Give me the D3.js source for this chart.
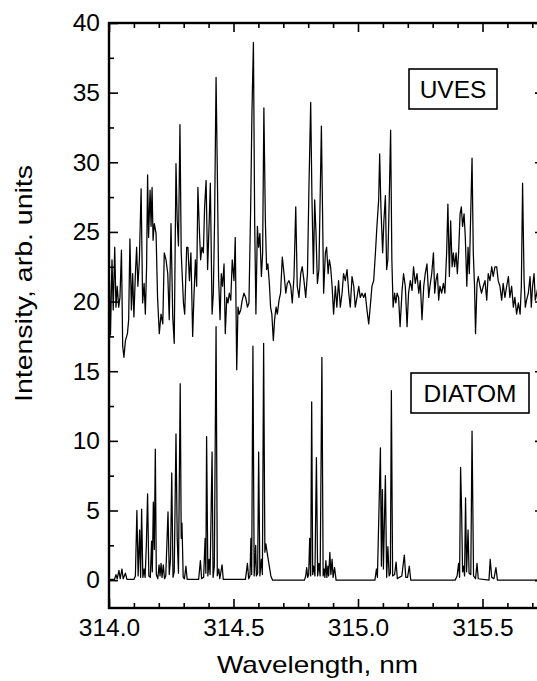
<!DOCTYPE html>
<html lang="en">
  <head>
    <meta charset="utf-8" />
    <style>
      body { margin: 0; background: #fff; }
      svg { display: block; }
    </style>
  </head>
  <body>
    <script type="text/javascript" src="https://d3js.org/d3.v7.min.js"></script>
    <script>
      // UVES spectrum (noisy trace around 20)
      var uvesWavelength = [
        314.002, 314.006, 314.012, 314.017, 314.023, 314.028, 314.033, 314.039, 314.044, 314.050,
        314.055, 314.060, 314.066, 314.074, 314.079, 314.084, 314.090, 314.095, 314.100, 314.106,
        314.111, 314.116, 314.122, 314.129, 314.135, 314.141, 314.146, 314.151, 314.155, 314.159,
        314.165, 314.169, 314.173, 314.177, 314.182, 314.189, 314.195, 314.202, 314.209, 314.216,
        314.222, 314.229, 314.236, 314.242, 314.249, 314.256, 314.262, 314.269, 314.274, 314.279,
        314.285, 314.290, 314.299, 314.304, 314.312, 314.317, 314.323, 314.329, 314.336, 314.341,
        314.347, 314.352, 314.357, 314.363, 314.368, 314.373, 314.379, 314.384, 314.390, 314.396,
        314.403, 314.407, 314.414, 314.419, 314.424, 314.430, 314.435, 314.440, 314.446, 314.451,
        314.456, 314.462, 314.467, 314.473, 314.478, 314.483, 314.489, 314.495, 314.502, 314.507,
        314.513, 314.518, 314.523, 314.529, 314.535, 314.542, 314.549, 314.556, 314.562, 314.569,
        314.574, 314.580, 314.585, 314.590, 314.596, 314.601, 314.606, 314.612, 314.617, 314.622,
        314.628, 314.633, 314.638, 314.644, 314.649, 314.654, 314.660, 314.665, 314.671, 314.676,
        314.683, 314.689, 314.696, 314.703, 314.710, 314.716, 314.723, 314.730, 314.736, 314.743,
        314.750, 314.756, 314.763, 314.770, 314.776, 314.783, 314.790, 314.797, 314.803, 314.810,
        314.815, 314.821, 314.826, 314.831, 314.837, 314.843, 314.853, 314.862, 314.869, 314.874,
        314.880, 314.885, 314.890, 314.896, 314.902, 314.909, 314.915, 314.922, 314.929, 314.936,
        314.942, 314.949, 314.956, 314.963, 314.969, 314.976, 314.983, 314.989, 314.996, 315.003,
        315.009, 315.016, 315.023, 315.029, 315.036, 315.043, 315.049, 315.056, 315.063, 315.070,
        315.076, 315.083, 315.087, 315.092, 315.099, 315.104, 315.110, 315.115, 315.120, 315.126,
        315.131, 315.136, 315.141, 315.147, 315.152, 315.157, 315.163, 315.169, 315.177, 315.183,
        315.190, 315.197, 315.203, 315.210, 315.217, 315.223, 315.230, 315.237, 315.244, 315.250,
        315.257, 315.264, 315.270, 315.277, 315.284, 315.289, 315.296, 315.303, 315.308, 315.313,
        315.319, 315.324, 315.329, 315.336, 315.343, 315.349, 315.356, 315.361, 315.367, 315.372,
        315.378, 315.383, 315.388, 315.394, 315.399, 315.404, 315.410, 315.415, 315.420, 315.426,
        315.431, 315.437, 315.442, 315.447, 315.452, 315.458, 315.463, 315.468, 315.472, 315.478,
        315.483, 315.490, 315.496, 315.503, 315.510, 315.517, 315.523, 315.530, 315.537, 315.543,
        315.550, 315.557, 315.563, 315.570, 315.577, 315.583, 315.590, 315.597, 315.604, 315.610,
        315.617, 315.624, 315.630, 315.637, 315.644, 315.651, 315.656, 315.661, 315.667, 315.672,
        315.677, 315.684, 315.691, 315.696, 315.701, 315.707, 315.712, 315.718, 315.723, 315.740
      ];
      var uvesIntensity = [
        21.5, 17.6, 23.0, 19.4, 23.9, 19.6, 21.1, 19.6, 20.3, 23.7,
        16.8, 16.0, 17.2, 17.7, 18.7, 24.5, 19.4, 22.0, 18.9, 22.0,
        23.9, 21.1, 23.0, 28.1, 19.9, 21.3, 19.1, 22.5, 29.1, 24.6,
        28.0, 25.4, 28.2, 24.4, 25.6, 24.9, 20.3, 17.7, 19.1, 18.4,
        23.5, 23.0, 22.0, 18.7, 25.6, 18.9, 17.0, 29.9, 25.8, 24.0,
        32.7, 23.5, 19.9, 19.1, 23.9, 23.9, 21.5, 23.5, 17.5, 20.3,
        23.0, 21.1, 28.2, 25.1, 23.0, 23.9, 23.5, 26.8, 28.7, 22.3,
        26.1, 28.5, 19.1, 20.6, 25.8, 36.1, 29.4, 21.8, 18.7, 22.0,
        21.1, 22.7, 17.7, 20.3, 19.9, 20.6, 20.1, 23.0, 21.5, 24.6,
        15.1, 19.6, 19.1, 19.4, 20.1, 20.6, 20.3, 19.6, 19.9, 26.8,
        33.5, 38.6, 25.8, 19.1, 25.4, 23.9, 24.9, 21.8, 23.5, 33.9,
        25.8, 22.3, 22.7, 21.3, 19.6, 19.1, 17.2, 18.7, 19.6, 19.1,
        20.1, 20.6, 23.2, 22.0, 20.6, 21.3, 21.5, 21.1, 19.9, 21.8,
        26.8, 21.1, 20.3, 22.0, 22.5, 21.5, 20.3, 22.0, 28.2, 34.3,
        27.5, 22.0, 27.3, 25.1, 21.3, 22.3, 32.6, 20.6, 23.5, 23.9,
        22.0, 23.0, 22.5, 21.1, 19.1, 21.1, 19.6, 21.5, 19.6, 20.6,
        22.0, 21.5, 22.3, 20.6, 19.6, 21.8, 21.1, 19.6, 20.3, 21.1,
        20.3, 20.6, 20.3, 20.6, 19.4, 18.4, 19.6, 21.1, 21.5, 23.5,
        25.4, 27.3, 30.6, 26.8, 23.5, 25.8, 27.6, 22.3, 23.0, 27.8,
        32.3, 23.0, 19.6, 20.6, 19.9, 20.6, 20.3, 18.2, 20.8, 22.0,
        21.1, 18.2, 20.6, 21.5, 20.8, 22.5, 21.3, 22.0, 20.6, 21.5,
        18.7, 21.1, 22.0, 22.7, 20.3, 21.1, 22.0, 23.5, 20.6, 21.5,
        22.0, 20.1, 21.1, 20.6, 21.3, 20.6, 23.5, 27.0, 21.8, 25.8,
        22.5, 23.5, 22.5, 23.5, 22.0, 23.5, 26.3, 26.8, 25.4, 26.3,
        24.6, 21.1, 23.9, 22.0, 25.8, 30.3, 23.5, 21.1, 17.7, 21.3,
        21.8, 21.1, 20.6, 21.1, 21.5, 20.1, 22.0, 21.5, 22.5, 21.8,
        22.5, 22.5, 21.5, 21.1, 20.1, 21.3, 20.3, 21.1, 21.8, 20.3,
        21.1, 19.6, 20.3, 19.1, 19.9, 19.1, 21.1, 28.5, 21.5, 19.6,
        20.1, 20.6, 21.8, 19.6, 21.1, 22.0, 20.1, 20.6, 21.1, 20.5
      ];

      // DIATOM spectrum (peaks on a zero baseline)
      var diatomWavelength = [
        314.000, 314.022, 314.028, 314.033, 314.040, 314.045, 314.052, 314.057, 314.066, 314.072,
        314.100, 314.106, 314.112, 314.117, 314.123, 314.127, 314.131, 314.136, 314.141, 314.145,
        314.150, 314.155, 314.160, 314.166, 314.171, 314.174, 314.178, 314.182, 314.186, 314.190,
        314.196, 314.201, 314.205, 314.209, 314.213, 314.218, 314.223, 314.228, 314.237, 314.242,
        314.247, 314.252, 314.257, 314.262, 314.269, 314.274, 314.279, 314.286, 314.290, 314.293,
        314.298, 314.303, 314.309, 314.314, 314.360, 314.367, 314.372, 314.380, 314.386, 314.389,
        314.392, 314.397, 314.402, 314.406, 314.414, 314.418, 314.423, 314.430, 314.435, 314.441,
        314.445, 314.454, 314.459, 314.548, 314.556, 314.561, 314.566, 314.570, 314.573, 314.578,
        314.583, 314.589, 314.592, 314.597, 314.601, 314.606, 314.612, 314.616, 314.621, 314.626,
        314.630, 314.635, 314.642, 314.650, 314.657, 314.785, 314.790, 314.794, 314.798, 314.802,
        314.806, 314.810, 314.814, 314.818, 314.822, 314.827, 314.833, 314.838, 314.843, 314.848,
        314.855, 314.860, 314.864, 314.867, 314.871, 314.875, 314.879, 314.882, 314.887, 314.891,
        314.896, 314.900, 314.906, 314.912, 315.068, 315.074, 315.078, 315.090, 315.094, 315.098,
        315.102, 315.110, 315.115, 315.120, 315.125, 315.130, 315.134, 315.139, 315.147, 315.153,
        315.158, 315.166, 315.176, 315.186, 315.192, 315.199, 315.206, 315.212, 315.390, 315.398,
        315.404, 315.408, 315.412, 315.416, 315.420, 315.424, 315.428, 315.432, 315.436, 315.442,
        315.446, 315.453, 315.458, 315.464, 315.472, 315.478, 315.483, 315.526, 315.531, 315.537,
        315.546, 315.554, 315.560, 315.745
      ];
      var diatomIntensity = [
        0.05, 0.05, 0.4, 0.1, 0.7, 0.1, 0.8, 0.1, 0.5, 0.05,
        0.05, 0.3, 5.0, 0.3, 3.6, 0.2, 5.1, 0.2, 0.8, 0.2,
        2.5, 6.2, 0.3, 0.2, 2.8, 0.6, 5.6, 2.2, 9.4, 0.4,
        0.1, 1.1, 0.3, 1.2, 0.2, 1.1, 0.1, 0.3, 4.9, 0.4,
        1.5, 7.7, 0.2, 0.6, 10.5, 3.0, 0.5, 14.1, 3.0, 4.1,
        0.2, 0.1, 1.0, 0.05, 0.05, 1.4, 0.1, 0.2, 3.0, 0.5,
        10.3, 0.3, 1.5, 0.4, 9.2, 0.2, 1.0, 18.2, 0.3, 0.8,
        0.1, 1.1, 0.05, 0.05, 1.2, 0.1, 0.3, 3.0, 0.4, 16.8,
        0.3, 2.5, 0.3, 0.5, 9.2, 0.3, 1.5, 0.4, 17.0, 2.0,
        2.6, 2.0, 1.2, 0.3, 0.0, 0.0, 0.3, 0.9, 0.2, 0.4,
        3.0, 0.3, 12.8, 0.4, 1.0, 0.3, 8.8, 0.3, 1.2, 0.3,
        16.0, 0.3, 0.8, 0.2, 1.4, 0.2, 1.0, 0.3, 2.0, 0.4,
        1.5, 0.2, 0.9, 0.0, 0.0, 0.8, 0.2, 9.5, 1.0, 6.5,
        0.8, 7.5, 0.2, 2.4, 0.3, 0.5, 13.6, 0.3, 0.4, 1.3,
        0.1, 0.2, 0.3, 1.8, 0.2, 0.2, 1.0, 0.0, 0.0, 0.3,
        1.2, 0.2, 8.1, 5.1, 0.6, 1.0, 0.3, 5.9, 0.6, 3.6,
        0.5, 0.4, 10.7, 0.3, 0.1, 1.2, 0.1, 0.0, 1.5, 0.2,
        0.1, 0.9, 0.0, 0.0
      ];

      var xTicks = [314.0, 314.5, 315.0, 315.5];
      var xMinorTicks = [314.1, 314.2, 314.3, 314.4, 314.6, 314.7, 314.8, 314.9,
                         315.1, 315.2, 315.3, 315.4, 315.6, 315.7];
      var yTicks = [0, 5, 10, 15, 20, 25, 30, 35, 40];
      var yMinorTicks = [2.5, 7.5, 12.5, 17.5, 22.5, 27.5, 32.5, 37.5];
      var seriesLabels = ["UVES", "DIATOM"];

      var width = 537,
        height = 681;
      // plot frame (the right edge lies just outside the picture)
      var pLeft = 109, pRight = 543, pTop = 23, pBottom = 608;
      var font = "'Liberation Sans', Arial, Helvetica, sans-serif";

      var svg = d3.select("body")
        .append("svg")
        .attr("width", width)
        .attr("height", height);

      var x = d3.scaleLinear().domain([314.0, 314.0 + (pRight - pLeft) / 249]).range([pLeft, pRight]);
      var y = d3.scaleLinear().domain([-2, 40]).range([pBottom, pTop]);

      svg.append("defs").append("clipPath").attr("id", "plot")
        .append("rect")
        .attr("x", pLeft).attr("y", pTop)
        .attr("width", pRight - pLeft).attr("height", pBottom - pTop);

      var line = d3.line()
        .x(function (d) { return x(d[0]); })
        .y(function (d) { return y(d[1]); });

      var diatom = diatomWavelength.map(function (w, i) { return [w, diatomIntensity[i]]; });
      var uves = uvesWavelength.map(function (w, i) { return [w, uvesIntensity[i]]; });

      var plot = svg.append("g").attr("clip-path", "url(#plot)");
      plot.append("path")
        .datum(diatom)
        .attr("d", line)
        .attr("fill", "none")
        .attr("stroke", "#000")
        .attr("stroke-width", 1.25)
        .attr("stroke-linejoin", "round");
      plot.append("path")
        .datum(uves)
        .attr("d", line)
        .attr("fill", "none")
        .attr("stroke", "#000")
        .attr("stroke-width", 1.25)
        .attr("stroke-linejoin", "round");

      // axes, ticks pointing inward
      function styleAxis(g) {
        g.select(".domain").remove();
        g.selectAll("line").attr("stroke", "#000").attr("stroke-width", 1.6);
        g.selectAll("text").attr("fill", "#000");
        g.attr("font-family", font).attr("font-size", 24.5);
      }

      svg.append("g")
        .attr("transform", "translate(0," + pBottom + ")")
        .call(d3.axisBottom(x).tickValues(xTicks).tickSize(-9).tickPadding(11)
          .tickFormat(d3.format(".1f")))
        .call(styleAxis);
      svg.append("g")
        .attr("transform", "translate(0," + pBottom + ")")
        .call(d3.axisBottom(x).tickValues(xMinorTicks).tickSize(-5).tickFormat(""))
        .call(styleAxis);
      svg.append("g")
        .attr("transform", "translate(0," + pTop + ")")
        .call(d3.axisTop(x).tickValues(xTicks).tickSize(-9).tickFormat(""))
        .call(styleAxis);
      svg.append("g")
        .attr("transform", "translate(0," + pTop + ")")
        .call(d3.axisTop(x).tickValues(xMinorTicks).tickSize(-5).tickFormat(""))
        .call(styleAxis);

      svg.append("g")
        .attr("transform", "translate(" + pLeft + ",0)")
        .call(d3.axisLeft(y).tickValues(yTicks).tickSize(-9).tickPadding(9)
          .tickFormat(d3.format("d")))
        .call(styleAxis);
      svg.append("g")
        .attr("transform", "translate(" + pLeft + ",0)")
        .call(d3.axisLeft(y).tickValues(yMinorTicks).tickSize(-5).tickFormat(""))
        .call(styleAxis);
      svg.append("g")
        .attr("transform", "translate(" + pRight + ",0)")
        .call(d3.axisRight(y).tickValues(yTicks).tickSize(-8).tickFormat(""))
        .call(styleAxis);

      // frame
      svg.append("rect")
        .attr("x", pLeft).attr("y", pTop)
        .attr("width", pRight - pLeft).attr("height", pBottom - pTop)
        .attr("fill", "none")
        .attr("stroke", "#000")
        .attr("stroke-width", 2.4);

      // axis titles
      svg.append("text")
        .attr("x", 317.5)
        .attr("y", 673)
        .attr("text-anchor", "middle")
        .attr("font-family", font)
        .attr("font-size", 24)
        .attr("textLength", 201)
        .attr("lengthAdjust", "spacingAndGlyphs")
        .text("Wavelength, nm");
      svg.append("text")
        .attr("transform", "translate(32,283.5) rotate(-90)")
        .attr("text-anchor", "middle")
        .attr("font-family", font)
        .attr("font-size", 24)
        .attr("textLength", 237)
        .attr("lengthAdjust", "spacingAndGlyphs")
        .text("Intensity, arb. units");

      // series labels in boxes
      var boxes = [
        { label: seriesLabels[0], x: 409, y: 69, w: 88, h: 40 },
        { label: seriesLabels[1], x: 411, y: 373, w: 118, h: 40 }
      ];
      var lab = svg.selectAll("g.lab").data(boxes).join("g").attr("class", "lab");
      lab.append("rect")
        .attr("x", function (d) { return d.x; })
        .attr("y", function (d) { return d.y; })
        .attr("width", function (d) { return d.w; })
        .attr("height", function (d) { return d.h; })
        .attr("fill", "#fff")
        .attr("stroke", "#000")
        .attr("stroke-width", 1.6);
      lab.append("text")
        .attr("x", function (d) { return d.x + d.w / 2; })
        .attr("y", function (d) { return d.y + d.h / 2; })
        .attr("dy", "0.36em")
        .attr("text-anchor", "middle")
        .attr("font-family", font)
        .attr("font-size", 24.5)
        .text(function (d) { return d.label; });
    </script>
  </body>
</html>
